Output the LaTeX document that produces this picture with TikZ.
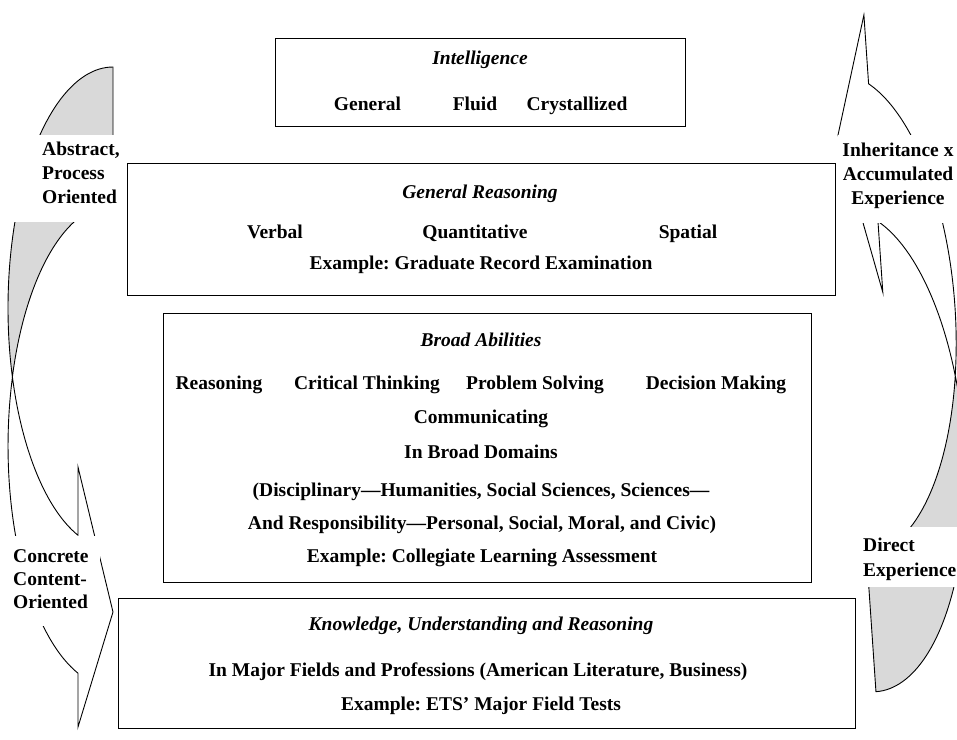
\documentclass[tikz,border=0pt]{standalone}
\usepackage{fontspec}
\setmainfont{Liberation Serif}
\frenchspacing
\newcommand{\myfs}{\fontsize{19.5}{23}\selectfont}
\tikzset{
  frame/.style={draw=black, line width=1.1pt, fill=white, inner sep=0pt, anchor=north west},
  txt/.style={font=\myfs\bfseries, inner sep=0pt, anchor=base},
  ttl/.style={font=\myfs\bfseries\itshape, inner sep=0pt, anchor=base},
  ltxt/.style={font=\myfs\bfseries, inner sep=0pt, anchor=base west},
  mask/.style={fill=white, draw=none, inner sep=0pt, anchor=north west},
  ribbon/.style={draw=black, line width=0.9pt, line join=miter},
  backface/.style={ribbon, fill=gray!30},
  frontface/.style={ribbon, fill=white},
}
\begin{document}
\begin{tikzpicture}[x=1pt,y=1pt]
\useasboundingbox (0,0) rectangle (957,-739);
\clip (0,0) rectangle (957,-739);

% ---------- left curved arrow ----------
\filldraw[backface] (113,-67)
  arc[start angle=90, end angle=196.6, x radius=105, y radius=241]
  arc[start angle=163.4, end angle=90, x radius=105, y radius=241]
  -- cycle;
\filldraw[frontface] (12.4,-376.9)
  arc[start angle=196.6, end angle=250.5, x radius=105, y radius=241]
  -- (78,-467) -- (113,-612) -- (78,-727) -- (78,-673.2)
  arc[start angle=250.5, end angle=163.4, x radius=105, y radius=241]
  -- cycle;

% ---------- right curved arrow ----------
\begin{scope}[shift={(838,-135)}, rotate=3.9]
\filldraw[backface] (0,-558)
  arc[start angle=270, end angle=376.6, x radius=105, y radius=241]
  arc[start angle=343.4, end angle=270, x radius=105, y radius=241]
  -- cycle;
\filldraw[frontface] (100.6,-248.1)
  arc[start angle=16.6, end angle=71.1, x radius=105, y radius=241]
  -- (34,-160) -- (0,0) -- (34,118) -- (34,49)
  arc[start angle=71.1, end angle=-16.6, x radius=105, y radius=241]
  -- cycle;
\end{scope}

% ---------- side labels ----------
\node[mask, minimum width=110pt, minimum height=87pt] (maskA) at (10,-135) {};
\node[ltxt] (labA1) at (42,-155) {Abstract,};
\node[ltxt] (labA2) at (42,-179) {Process};
\node[ltxt] (labA3) at (42,-203) {Oriented};

\node[mask, minimum width=100pt, minimum height=90pt] (maskC) at (0,-536) {};
\node[ltxt] (labC1) at (13,-562) {Concrete};
\node[ltxt] (labC2) at (13,-585) {Content-};
\node[ltxt] (labC3) at (13,-608) {Oriented};

\node[mask, minimum width=119pt, minimum height=88pt] (maskI) at (838,-135) {};
\node[txt] (labI1) at (898,-156) {Inheritance x};
\node[txt] (labI2) at (898,-180) {Accumulated};
\node[txt] (labI3) at (898,-204) {Experience};

\node[mask, minimum width=102pt, minimum height=60pt] (maskD) at (855,-527) {};
\node[ltxt] (labD1) at (863,-551) {Direct};
\node[ltxt] (labD2) at (863,-576) {Experience};

% ---------- boxes ----------
\node[frame, minimum width=410pt, minimum height=88pt] (intel) at (275,-38) {};
\node[ttl] (intelT) at (480,-64) {Intelligence};
\node[txt] (intelG) at (367.5,-110) {General};
\node[txt] (intelF) at (475,-110) {Fluid};
\node[txt] (intelC) at (577,-110) {Crystallized};

\node[frame, minimum width=708pt, minimum height=132pt] (genr) at (127,-163) {};
\node[ttl] (genrT) at (480,-198) {General Reasoning};
\node[txt] (genrV) at (275,-238) {Verbal};
\node[txt] (genrQ) at (475,-238) {Quantitative};
\node[txt] (genrS) at (688,-238) {Spatial};
\node[txt] (genrE) at (481,-269) {Example: Graduate Record Examination};

\node[frame, minimum width=648pt, minimum height=269pt] (broad) at (163,-313) {};
\node[ttl] (broadT) at (481,-346) {Broad Abilities};
\node[txt] (broadR) at (219,-389) {Reasoning};
\node[txt] (broadCT) at (367,-389) {Critical Thinking};
\node[txt] (broadPS) at (535,-389) {Problem Solving};
\node[txt] (broadDM) at (716,-389) {Decision Making};
\node[txt] (broadCo) at (481,-423) {Communicating};
\node[txt] (broadIn) at (481,-458) {In Broad Domains};
\node[txt] (broadD1) at (481,-496) {(Disciplinary—Humanities, Social Sciences, Sciences—};
\node[txt] (broadD2) at (482,-529) {And Responsibility—Personal, Social, Moral, and Civic)};
\node[txt] (broadE) at (482,-562) {Example: Collegiate Learning Assessment};

\node[frame, minimum width=737pt, minimum height=130pt] (know) at (118,-598) {};
\node[ttl] (knowT) at (481,-630) {Knowledge, Understanding and Reasoning};
\node[txt] (knowM) at (478,-676) {In Major Fields and Professions (American Literature, Business)};
\node[txt] (knowE) at (481,-710) {Example: ETS’ Major Field Tests};
\end{tikzpicture}
\end{document}
